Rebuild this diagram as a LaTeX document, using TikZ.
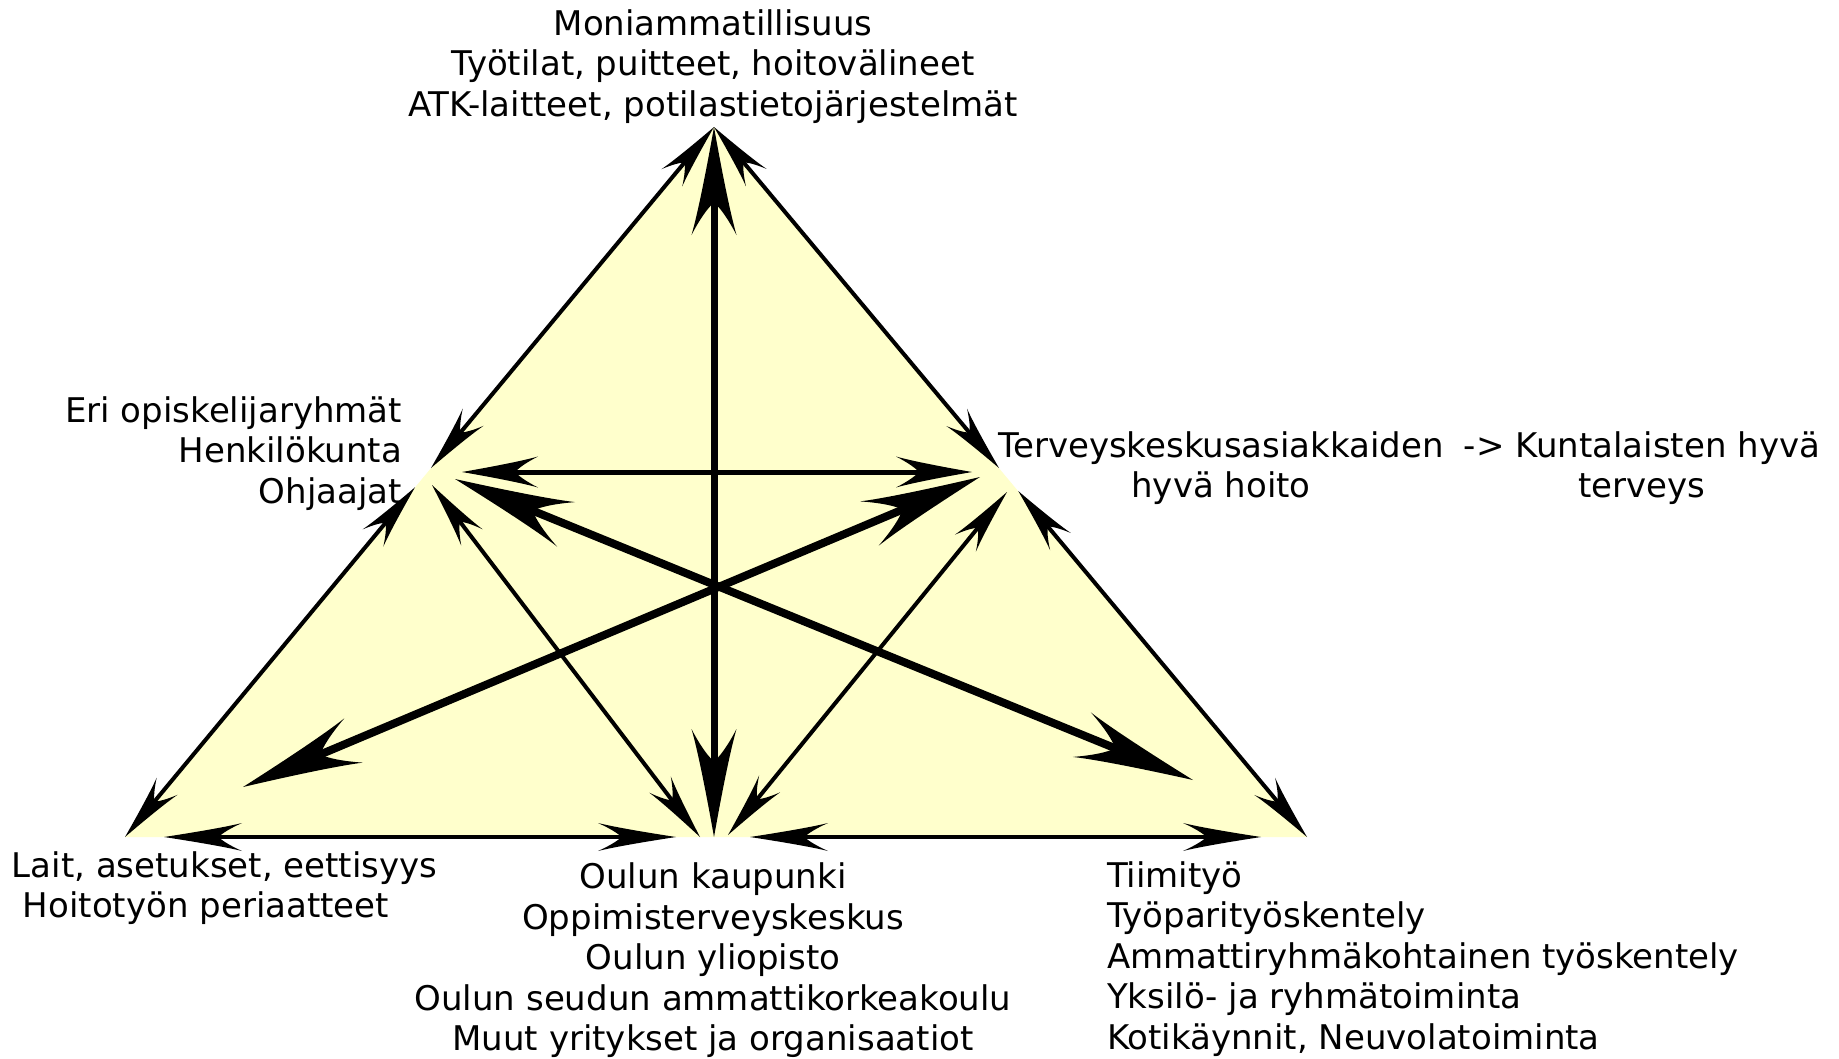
\documentclass[tikz,border=0pt]{standalone}
\usepackage{fontspec}
\setmainfont{DejaVu Sans}
\usetikzlibrary{arrows.meta}
\definecolor{paleyellow}{RGB}{255,255,204}
\pgfdeclarearrow{
  name = Barb,
  parameters = {\the\pgfarrowlength,\the\pgfarrowwidth},
  setup code = {
    \pgfarrowssettipend{0pt}
    \pgfarrowssetbackend{-\pgfarrowlength}
    \pgfarrowssetlineend{-0.6\pgfarrowlength}
    \pgfarrowssavethe\pgfarrowlength
    \pgfarrowssavethe\pgfarrowwidth
  },
  drawing code = {
    \pgfpathmoveto{\pgfqpoint{0pt}{0pt}}
    \pgfpathcurveto{\pgfqpoint{-0.4\pgfarrowlength}{0.17\pgfarrowwidth}}{\pgfqpoint{-0.8\pgfarrowlength}{0.36\pgfarrowwidth}}{\pgfqpoint{-\pgfarrowlength}{0.5\pgfarrowwidth}}
    \pgfpathcurveto{\pgfqpoint{-0.84\pgfarrowlength}{0.3\pgfarrowwidth}}{\pgfqpoint{-0.74\pgfarrowlength}{0.12\pgfarrowwidth}}{\pgfqpoint{-0.7\pgfarrowlength}{0pt}}
    \pgfpathcurveto{\pgfqpoint{-0.74\pgfarrowlength}{-0.12\pgfarrowwidth}}{\pgfqpoint{-0.84\pgfarrowlength}{-0.3\pgfarrowwidth}}{\pgfqpoint{-\pgfarrowlength}{-0.5\pgfarrowwidth}}
    \pgfpathcurveto{\pgfqpoint{-0.8\pgfarrowlength}{-0.36\pgfarrowwidth}}{\pgfqpoint{-0.4\pgfarrowlength}{-0.17\pgfarrowwidth}}{\pgfqpoint{0pt}{0pt}}
    \pgfpathclose
    \pgfusepathqfill
  },
  defaults = {length=10pt, width=6pt}
}
\tikzset{
  txt/.style={font=\fontsize{34}{40.5}\selectfont, inner sep=0pt, outer sep=0pt, text=black},
  sidearr/.style={line width=4pt, arrows={Barb[length=66pt,width=27pt]-Barb[length=66pt,width=27pt]}},
  botarr/.style={line width=4.5pt, arrows={Barb[length=78pt,width=28pt]-Barb[length=78pt,width=28pt]}},
  vertarr/.style={line width=7pt, arrows={Barb[length=108pt,width=45pt]-Barb[length=108pt,width=45pt]}},
  midarr/.style={line width=5pt, arrows={Barb[length=76pt,width=31pt]-Barb[length=76pt,width=31pt]}},
  diagarr/.style={line width=8pt, arrows={Barb[length=120pt,width=48pt]-Barb[length=120pt,width=48pt]}},
  thinarr/.style={line width=4pt, arrows={Barb[length=66pt,width=27pt]-Barb[length=66pt,width=27pt]}}
}
\begin{document}
\begin{tikzpicture}[x=1pt,y=-1pt]
\useasboundingbox[fill=white] (0,0) rectangle (1839,1058);
% vertices
\coordinate (T) at (714,127);
\coordinate (BL) at (125,837);
\coordinate (BR) at (1307,837);
\coordinate (BM) at (714,837);
\coordinate (LM) at (431,468);
\coordinate (RM) at (999,468);
\coordinate (H1) at (462,472);
\coordinate (H2) at (972,472);
\coordinate (D1s) at (455,479);
\coordinate (D1e) at (1193,780);
\coordinate (D2s) at (980,477);
\coordinate (D2e) at (243,787);
\coordinate (S1s) at (432,485);
\coordinate (S1e) at (700,837);
\coordinate (S2s) at (1007,492);
\coordinate (S2e) at (728,835);
% triangle fill
\fill[paleyellow] (T) -- (BR) -- (BL) -- cycle;
% edges
\draw[sidearr] (T) -- (LM);
\draw[sidearr, shorten <=25pt] (LM) -- (BL);
\draw[sidearr] (T) -- (RM);
\draw[sidearr, shorten <=30pt] (RM) -- (BR);
\draw[botarr, shorten <=39pt, shorten >=38pt] (BL) -- (BM);
\draw[botarr, shorten <=36pt, shorten >=46pt] (BM) -- (BR);
% inner connectors
\draw[vertarr] (T) -- (BM);
\draw[midarr] (H1) -- (H2);
\draw[diagarr] (D1s) -- (D1e);
\draw[diagarr] (D2s) -- (D2e);
\draw[thinarr] (S1s) -- (S1e);
\draw[thinarr] (S2s) -- (S2e);
% texts
\node[txt, anchor=north, align=center] (toptxt) at (713,9.5) {Moniammatillisuus\\Työtilat, puitteet, hoitovälineet\\ATK-laitteet, potilastietojärjestelmät};
\node[txt, anchor=north east, align=right] (lmtxt) at (402,396.5) {Eri opiskelijaryhmät\\Henkilökunta\\Ohjaajat};
\node[txt, anchor=north, align=center] (rmtxt) at (1221,431.5) {Terveyskeskusasiakkaiden\\hyvä hoito};
\node[txt, anchor=north, align=center] (rmtxtb) at (1642,431.5) {-> Kuntalaisten hyvä\\terveys};
\node[txt, anchor=north west, align=left] (bltxt) at (12,851.5) {Lait, asetukset, eettisyys\\\hspace*{11pt}Hoitotyön periaatteet};
\node[txt, anchor=north, align=center] (bmtxt) at (713,863) {Oulun kaupunki\\Oppimisterveyskeskus\\Oulun yliopisto\\Oulun seudun ammattikorkeakoulu\\Muut yritykset ja organisaatiot};
\node[txt, anchor=north west, align=left] (brtxt) at (1107,861.5) {Tiimityö\\Työparityöskentely\\Ammattiryhmäkohtainen työskentely\\Yksilö- ja ryhmätoiminta\\Kotikäynnit, Neuvolatoiminta};
\end{tikzpicture}
\end{document}
